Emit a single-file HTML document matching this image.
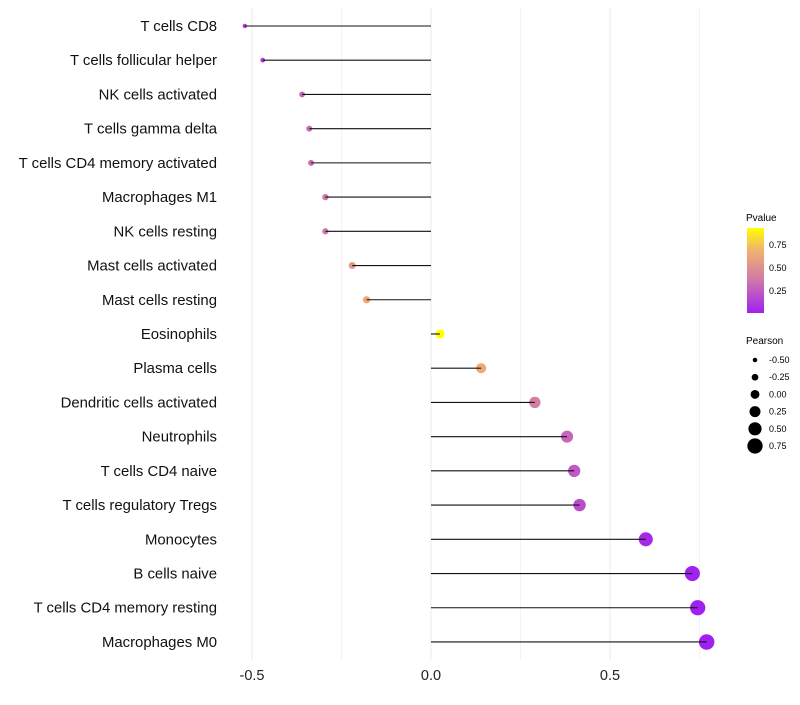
<!DOCTYPE html>
<html><head><meta charset="utf-8"><style>
body{margin:0;background:#fff;font-family:"Liberation Sans",sans-serif}
</style></head><body>
<svg id="chart" width="800" height="700">
<defs><linearGradient id="pg" x1="0" y1="1" x2="0" y2="0">
<stop offset="0" stop-color="#a020f0"/><stop offset="0.4" stop-color="#d27aa8"/><stop offset="0.75" stop-color="#f2b46c"/><stop offset="1" stop-color="#ffff00"/></linearGradient></defs>
<g id="grid"></g><g id="dots"></g><g id="marks"></g><g id="labels"></g>
<g font-size="9">
<text x="746" y="221" font-size="10">Pvalue</text>
<rect x="747" y="228" width="17" height="85" fill="url(#pg)"/>
<text x="769" y="248">0.75</text><text x="769" y="271">0.50</text><text x="769" y="294">0.25</text>
<text x="746" y="344" font-size="10">Pearson</text>
<g id="sizeleg"></g>
</g>
</svg>
<script>
const categories=["T cells CD8","T cells follicular helper","NK cells activated","T cells gamma delta","T cells CD4 memory activated","Macrophages M1","NK cells resting","Mast cells activated","Mast cells resting","Eosinophils","Plasma cells","Dendritic cells activated","Neutrophils","T cells CD4 naive","T cells regulatory  Tregs ","Monocytes","B cells naive","T cells CD4 memory resting","Macrophages M0"];
const pearson=[-0.52,-0.47,-0.36,-0.34,-0.335,-0.295,-0.295,-0.22,-0.18,0.025,0.14,0.29,0.38,0.40,0.415,0.60,0.73,0.745,0.77];
const pvalue=[0.12,0.15,0.3,0.33,0.33,0.38,0.38,0.55,0.65,0.93,0.65,0.4,0.3,0.25,0.2,0.06,0.03,0.02,0.01];
const xTicks=[-0.5,0,0.5];
const xTickLabels=["-0.5","0.0","0.5"];
const sizeLegend=[-0.5,-0.25,0,0.25,0.5,0.75];
const sizeLegendLabels=["-0.50","-0.25","0.00","0.25","0.50","0.75"];
const NS="http://www.w3.org/2000/svg";
const x=v=>431+v*358;
const y=i=>26+i*34.22;
const r=v=>2.2+(v+0.52)*4.3;
function col(p){const s=[[0,[160,32,240]],[0.4,[210,122,168]],[0.75,[242,180,108]],[1,[255,255,0]]];
 const t=Math.max(0,Math.min(1,(p-0.02)/0.91));for(let k=1;k<s.length;k++){if(t<=s[k][0]){const a=s[k-1],b=s[k],f=(t-a[0])/(b[0]-a[0]);
 return "rgb("+a[1].map((c,j)=>Math.round(c+(b[1][j]-c)*f)).join(",")+")";}}return "rgb(255,255,0)";}
function mk(t,a,p){const e=document.createElementNS(NS,t);for(const k in a)e.setAttribute(k,a[k]);p.appendChild(e);return e;}
const G=document.getElementById("grid"),M=document.getElementById("marks"),D=document.getElementById("dots"),L=document.getElementById("labels");
[-0.25,0.25,0.75].forEach(v=>{const l=mk("line",{x1:x(v),x2:x(v),y1:8,y2:660,stroke:"#f2f2f2","stroke-width":1},G);

});
xTicks.forEach((v,i)=>{const l=mk("line",{x1:x(v),x2:x(v),y1:8,y2:660,stroke:"#ebebeb","stroke-width":1},G);


const t=mk("text",{x:x(v),y:680,"text-anchor":"middle","font-size":14.5,fill:"#222"},L);t.textContent=xTickLabels[i];

});
categories.forEach((c,i)=>{const yy=y(i);
const t=mk("text",{x:217,y:yy+5,"text-anchor":"end","font-size":14.9,fill:"#111"},L);t.textContent=c;


const d=mk("circle",{cx:x(pearson[i]),cy:yy,r:r(pearson[i]),fill:col(pvalue[i])},D);


const ln=mk("line",{x1:x(0),x2:x(pearson[i]),y1:yy,y2:yy,stroke:"#111","stroke-width":1.1},M);

});
const S=document.getElementById("sizeleg");
sizeLegend.forEach((v,i)=>{const yy=360+i*17.2;
const d=mk("circle",{cx:755,cy:yy,r:r(v),fill:"#000"},S);


const t=mk("text",{x:769,y:yy+3,"font-size":9},S);t.textContent=sizeLegendLabels[i];

});
</script>
</body></html>
